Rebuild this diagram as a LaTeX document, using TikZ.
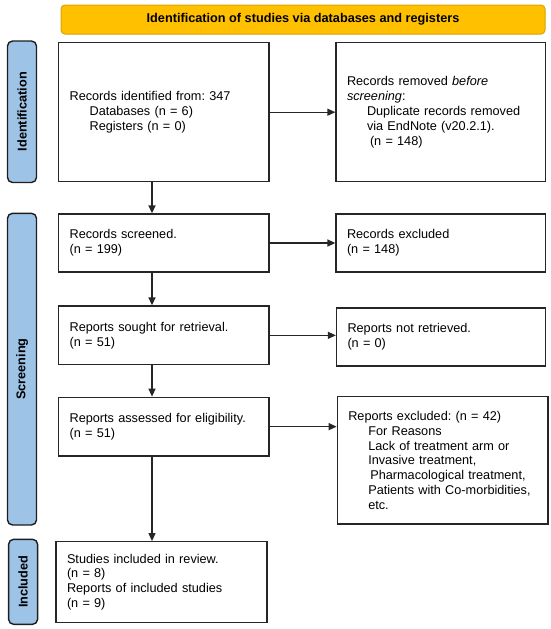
\documentclass[tikz,border=0pt]{standalone}
\usepackage{fontspec}
\setmainfont{Liberation Sans}
\usetikzlibrary{arrows.meta}
\frenchspacing
\definecolor{hdrfill}{HTML}{FFC000}
\definecolor{hdrdraw}{HTML}{D9A300}
\definecolor{sidefill}{HTML}{9DC3E6}
\definecolor{sidedraw}{HTML}{1E1E1E}
\definecolor{boxdraw}{HTML}{262626}
\begin{document}
\begin{tikzpicture}[x=1pt,y=-1pt,
  every node/.style={font=\fontsize{12.7}{14.8}\selectfont},
  hdr/.style={draw=hdrdraw,fill=hdrfill,line width=1pt,rounded corners=4pt,
    minimum width=484pt,minimum height=29pt,inner sep=0pt,font=\fontsize{12.7}{14.8}\selectfont\bfseries},
  side/.style={draw=sidedraw,fill=sidefill,line width=1.4pt,rounded corners=5pt,
    rotate=90,minimum height=29pt,inner sep=0pt,font=\fontsize{12.7}{14.8}\selectfont\bfseries},
  pbox/.style={draw=boxdraw,line width=1.3pt,inner xsep=11pt,inner ysep=0pt,align=left},
  arr/.style={draw=boxdraw,line width=1.3pt,-{Triangle[length=8pt,width=7pt]}}
]
\useasboundingbox (0,0) rectangle (550,629);
\node[hdr] (hdr) at (303,19.5) {Identification of studies via databases and registers};

\node[side,minimum width=141.5pt] (sid) at (22,111.75) {Identification};
\node[side,minimum width=311.7pt] (ssc) at (22,369.15) {Screening};
\node[side,minimum width=85pt] (sin) at (23.1,581.8) {Included};

\node[pbox,text width=188.4pt,minimum height=139pt] (b1) at (163.8,112.2)
 {Records identified from: 347\\\hspace*{20pt}Databases (n = 6)\\\hspace*{20pt}Registers (n = 0)};
\node[pbox,text width=187.5pt,minimum height=139pt] (b2) at (440.75,112.2)
 {Records removed \textit{before}\\\textit{screening}:\\\hspace*{20pt}Duplicate records removed\\\hspace*{20pt}via EndNote (v20.2.1).\\\hspace*{23pt}(n = 148)};

\node[pbox,text width=188.4pt,minimum height=58pt] (b3) at (163.8,243)
 {Records screened.\\(n = 199)};
\node[pbox,text width=187.5pt,minimum height=58pt] (b4) at (440.75,243)
 {Records excluded\\(n = 148)};

\node[pbox,text width=188.4pt,minimum height=58.7pt] (b5) at (163.8,335.35)
 {Reports sought for retrieval.\\(n = 51)};
\node[pbox,text width=187pt,minimum height=58pt] (b6) at (441,337)
 {Reports not retrieved.\\(n = 0)};

\node[pbox,text width=188.4pt,minimum height=58.7pt] (b7) at (163.8,426.65)
 {Reports assessed for eligibility.\\(n = 51)};
\node[pbox,text width=188.7pt,minimum height=127.3pt] (b8) at (442.65,460.35)
 {Reports excluded: (n = 42)\\\hspace*{20pt}For Reasons\\\hspace*{20pt}Lack of treatment arm or\\\hspace*{20pt}Invasive treatment,\\\hspace*{22pt}Pharmacological treatment,\\\hspace*{20pt}Patients with Co-morbidities,\\\hspace*{20pt}etc.};

\node[pbox,text width=189pt,minimum height=80.8pt] (b9) at (161.5,582.1)
 {Studies included in review.\\(n = 8)\\Reports of included studies\\(n = 9)};

\coordinate (ax) at (152,0);
\draw[arr] (b1.east) -- (b1.east -| b2.west);
\draw[arr] (b3.east) -- (b3.east -| b4.west);
\draw[arr] (b5.east) -- (b5.east -| b6.west);
\draw[arr] (b7.east) -- (b7.east -| b8.west);
\draw[arr] (b1.south -| ax) -- (b3.north -| ax);
\draw[arr] (b3.south -| ax) -- (b5.north -| ax);
\draw[arr] (b5.south -| ax) -- (b7.north -| ax);
\draw[arr] (b7.south -| ax) -- (b9.north -| ax);
\end{tikzpicture}
\end{document}
